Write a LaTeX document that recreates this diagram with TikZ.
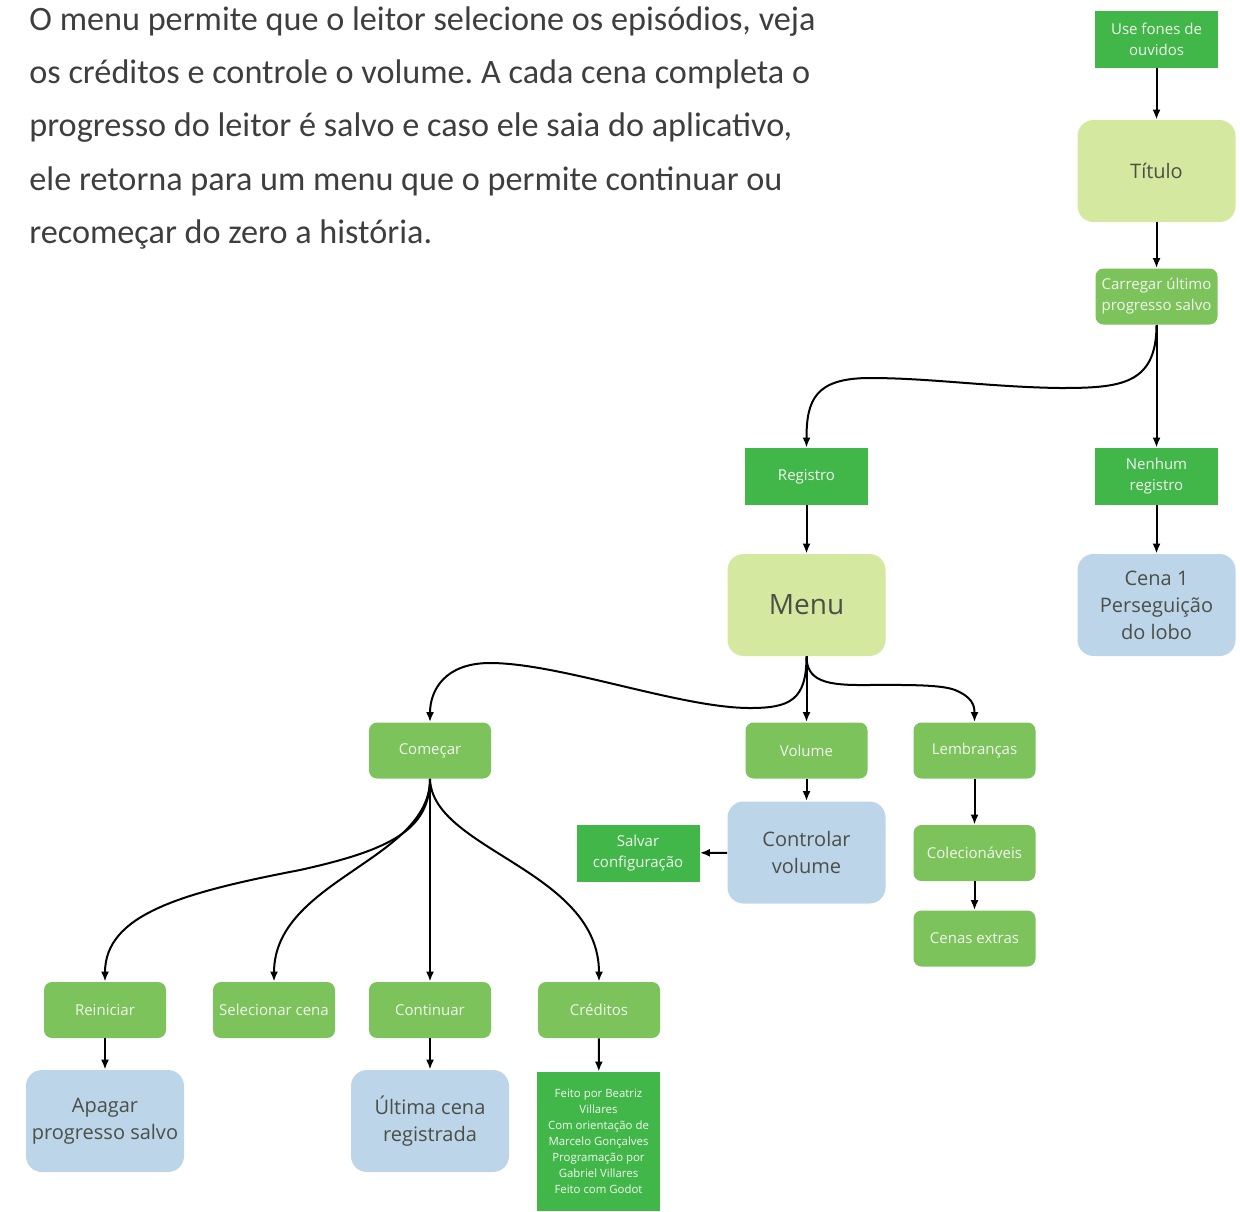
\documentclass[tikz,border=0pt]{standalone}
\usepackage{fontspec}
\setmainfont{Open Sans}
\newfontfamily\parafont{Carlito}
\usetikzlibrary{arrows.meta}

\definecolor{vivid}{HTML}{41B649}
\definecolor{leaf}{HTML}{7DC35B}
\definecolor{lime}{HTML}{D5E8A0}
\definecolor{sky}{HTML}{BDD5E9}
\definecolor{ink}{HTML}{4A4F48}
\definecolor{paper}{HTML}{F2F7EE}
\definecolor{prose}{HTML}{3E3E3E}

\tikzset{
  base/.style={align=center, inner sep=1pt},
  squarebox/.style={base, fill=vivid, text=paper, minimum width=61.5pt,
    minimum height=28.5pt, font=\fontsize{7.5}{10.5}\selectfont},
  smallbox/.style={base, fill=leaf, rounded corners=4pt, text=paper,
    minimum width=61pt, minimum height=28pt, font=\fontsize{7.5}{10.5}\selectfont},
  bigbox/.style={base, rounded corners=8pt, minimum width=79pt,
    minimum height=51pt, text=ink, font=\fontsize{10}{13.5}\selectfont},
  titlebox/.style={bigbox, fill=lime},
  infobox/.style={bigbox, fill=sky},
  link/.style={line width=1pt, -{Latex[length=5pt,width=4pt]}}
}

\begin{document}
\frenchspacing
\begin{tikzpicture}[x=0.5pt, y=-0.5pt]
\useasboundingbox (0,0) rectangle (1240,1211);

% introductory paragraph
\node[anchor=north west, align=left, inner sep=0pt, text=prose,
      font=\parafont\fontsize{17.1}{26.7}\selectfont] (intro) at (29,6)
  {O menu permite que o leitor selecione os episódios, veja\\
   os créditos e controle o volume. A cada cena completa o\\
   progresso do leitor é salvo e caso ele saia do aplicativo,\\
   ele retorna para um menu que o permite continuar ou\\
   recomeçar do zero a história.};

% start-up chain
\node[squarebox] (fones) at (1156.5,39) {Use fones de\\ouvidos};
\node[titlebox] (titulo) at (1156.5,171) {Título};
\node[smallbox] (carregar) at (1156.5,296.5) {Carregar último\\progresso salvo};
\node[squarebox] (registro) at (806.5,476.5) {Registro};
\node[squarebox] (nenhum) at (1156.5,476.5) {Nenhum\\registro};
\node[titlebox, font=\fontsize{14}{17}\selectfont] (menu) at (806.5,605) {Menu};
\node[infobox] (cena) at (1156.5,605) {Cena 1\\Perseguição\\do lobo};

% menu options
\node[smallbox] (comecar) at (430,750.5) {Começar};
\node[smallbox] (volume) at (806.5,750.5) {Volume};
\node[smallbox] (lembr) at (974.5,750.5) {Lembranças};
\node[infobox] (controlar) at (806.5,852.5) {Controlar\\volume};
\node[squarebox] (salvar) at (638,853) {Salvar\\configuração};
\node[smallbox] (colec) at (974.5,853) {Colecionáveis};
\node[smallbox] (cenas) at (974.5,938.5) {Cenas extras};

% start sub-options
\node[smallbox] (reiniciar) at (105,1010) {Reiniciar};
\node[smallbox] (selecionar) at (274,1010) {Selecionar cena};
\node[smallbox] (continuar) at (430,1010) {Continuar};
\node[smallbox] (creditos) at (599,1010) {Créditos};
\node[infobox] (apagar) at (105,1121) {Apagar\\progresso salvo};
\node[infobox] (ultima) at (430,1121) {Última cena\\registrada};
\node[squarebox, minimum height=69.5pt, font=\fontsize{5.7}{8}\selectfont]
  (feito) at (598.5,1141.5)
  {Feito por Beatriz\\Villares\\Com orientação de\\Marcelo Gonçalves\\
   Programação por\\Gabriel Villares\\Feito com Godot};

% connectors
\draw[link] (fones) -- (titulo);
\draw[link] (titulo) -- (carregar);
\draw[link] (carregar.south) .. controls (1156.5,385) and (1120,388) .. (1060,388)
  .. controls (990,387) and (930,378) .. (870,378)
  .. controls (815,378) and (806.5,400) .. (registro.north);
\draw[link] (carregar) -- (nenhum);
\draw[link] (registro) -- (menu);
\draw[link] (nenhum) -- (cena);

\draw[link] (menu.south) .. controls (806.5,700) and (790,708) .. (750,708)
  .. controls (680,708) and (560,663) .. (490,663)
  .. controls (445,663) and (430,690) .. (comecar.north);
\draw[link] (menu) -- (volume);
\draw[link] (menu.south) .. controls (806.5,680) and (825,685) .. (860,685)
  .. controls (900,685) and (940,684) .. (955,690)
  .. controls (972,697) and (974.5,705) .. (lembr.north);

\draw[link] (volume) -- (controlar);
\draw[link] (controlar) -- (salvar);
\draw[link] (lembr) -- (colec);
\draw[link] (colec) -- (cenas);

\draw[link] (comecar.south) .. controls (430,830) and (390,850) .. (300,870)
  .. controls (180,893) and (105,915) .. (reiniciar.north);
\draw[link] (comecar.south) .. controls (430,860) and (274,880) .. (selecionar.north);
\draw[link] (comecar) -- (continuar);
\draw[link] (comecar.south) .. controls (432,850) and (599,870) .. (creditos.north);

\draw[link] (reiniciar) -- (apagar);
\draw[link] (continuar) -- (ultima);
\draw[link] (creditos) -- (feito);
\end{tikzpicture}
\end{document}
